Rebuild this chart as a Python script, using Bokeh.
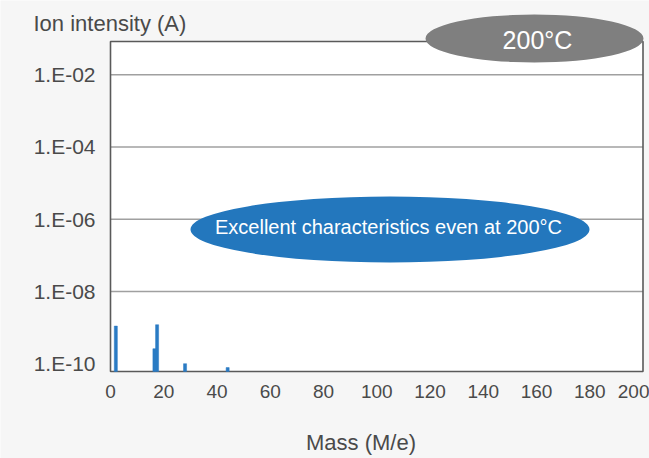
from bokeh.plotting import figure
from bokeh.models import Range1d, FixedTicker, CustomJSTickFormatter, ColumnDataSource
from bokeh.core.properties import value
from bokeh.embed import file_html
from bokeh.resources import INLINE

# ---- data ----
masses = [2, 16.5, 17.5, 28, 44]
intensity = [1.1e-9, 2.6e-10, 1.2e-9, 1.0e-10, 7.8e-11]
x_ticks = [0, 20, 40, 60, 80, 100, 120, 140, 160, 180, 200]
y_ticks = [1e-10, 1e-8, 1e-6, 1e-4, 1e-2]
y_tick_labels = ["1.E-10", "1.E-08", "1.E-06", "1.E-04", "1.E-02"]
grid_ticks = [1e-8, 1e-6, 1e-4, 1e-2]
y_title = "Ion intensity (A)"
x_title = "Mass (M/e)"
badge_text = "200°C"
note_text = "Excellent characteristics even at 200°C"

# ---- layout helpers (reference pixel -> data space) ----
W, H = 649, 458
X0, XPX = 110.0, 532.5 / 200.0       # px of x=0, px per unit
Y10, YPX = 363.2, 36.12              # px of 1e-10, px per decade
def dx(px):
    return (px - X0) / XPX
def dy(py):
    return 10 ** (-10 + (Y10 - py) / YPX)

BG = "#f6f6f6"
TXT = "#4a4a4a"
FONT = "Liberation Sans"

p = figure(width=W, height=H, output_backend="svg", toolbar_location=None,
           y_axis_type="log",
           x_range=Range1d(dx(0), dx(W)), y_range=Range1d(dy(H), dy(0)),
           min_border_left=0, min_border_right=0, min_border_top=0, min_border_bottom=0)
p.background_fill_color = BG
p.border_fill_color = BG
p.outline_line_color = None
p.grid.visible = False

y_lo, y_hi = dy(371), dy(41)

# white plot box
p.quad(left=[0], right=[200], bottom=[y_lo], top=[y_hi], fill_color="white", line_color=None)
# horizontal grid lines
p.segment(x0=[0] * len(grid_ticks), x1=[200] * len(grid_ticks), y0=grid_ticks, y1=grid_ticks,
          line_color="#a0a0a0", line_width=1.6)
# box border
p.quad(left=[0], right=[200], bottom=[y_lo], top=[y_hi], fill_color=None,
       line_color="#5a5a5a", line_width=1.6)

# bars
src = ColumnDataSource(dict(m=masses, v=intensity))
p.vbar(x="m", top="v", bottom=y_lo, width=1.15, source=src,
       fill_color="#2a7bc4", line_color="#2a7bc4", line_width=0.5)

# ellipses + texts
p.ellipse(x=[dx(389.5)], y=[dy(229)], width=399, height=66,
          width_units="screen", height_units="screen",
          fill_color="#2377bd", line_color=None)
p.text(x=[dx(388)], y=[dy(226)], text=[note_text], text_align="center",
       text_baseline="middle", text_color="white",
       text_font=value(FONT), text_font_size="20px")
p.ellipse(x=[dx(534)], y=[dy(38)], width=218, height=48,
          width_units="screen", height_units="screen",
          fill_color="#7f7f7f", line_color=None)
p.text(x=[dx(537)], y=[dy(39.5)], text=[badge_text], text_align="center",
       text_baseline="middle", text_color="white",
       text_font=value(FONT), text_font_size="25px")

# axis titles
p.text(x=[dx(33)], y=[dy(23)], text=[y_title], text_align="left",
       text_baseline="middle", text_color=TXT,
       text_font=value(FONT), text_font_size="22px")
p.text(x=[dx(360.5)], y=[dy(442)], text=[x_title], text_align="center",
       text_baseline="middle", text_color=TXT,
       text_font=value(FONT), text_font_size="22px")

# axes (labels drawn inward onto the canvas)
p.yaxis.ticker = FixedTicker(ticks=y_ticks)
p.yaxis.formatter = CustomJSTickFormatter(args=dict(vals=y_ticks, labs=y_tick_labels), code="""
    let best = 0, bd = 1e9;
    for (let i = 0; i < vals.length; i++) {
        const d = Math.abs(Math.log10(vals[i]) - Math.log10(tick));
        if (d < bd) { bd = d; best = i; }
    }
    return labs[best];
""")
for ax in (p.xaxis, p.yaxis):
    ax.axis_line_color = None
    ax.major_tick_line_color = None
    ax.minor_tick_line_color = None
    ax.major_tick_out = 0
    ax.major_tick_in = 0
    ax.major_label_text_font = FONT
    ax.major_label_text_color = TXT
p.yaxis.major_label_standoff = -95
p.yaxis.major_label_text_font_size = "21px"

p.xaxis.ticker = FixedTicker(ticks=x_ticks)
p.xaxis.major_label_standoff = -74
p.xaxis.major_label_text_font_size = "19px"

open("out.html", "w").write(file_html(p, INLINE))
